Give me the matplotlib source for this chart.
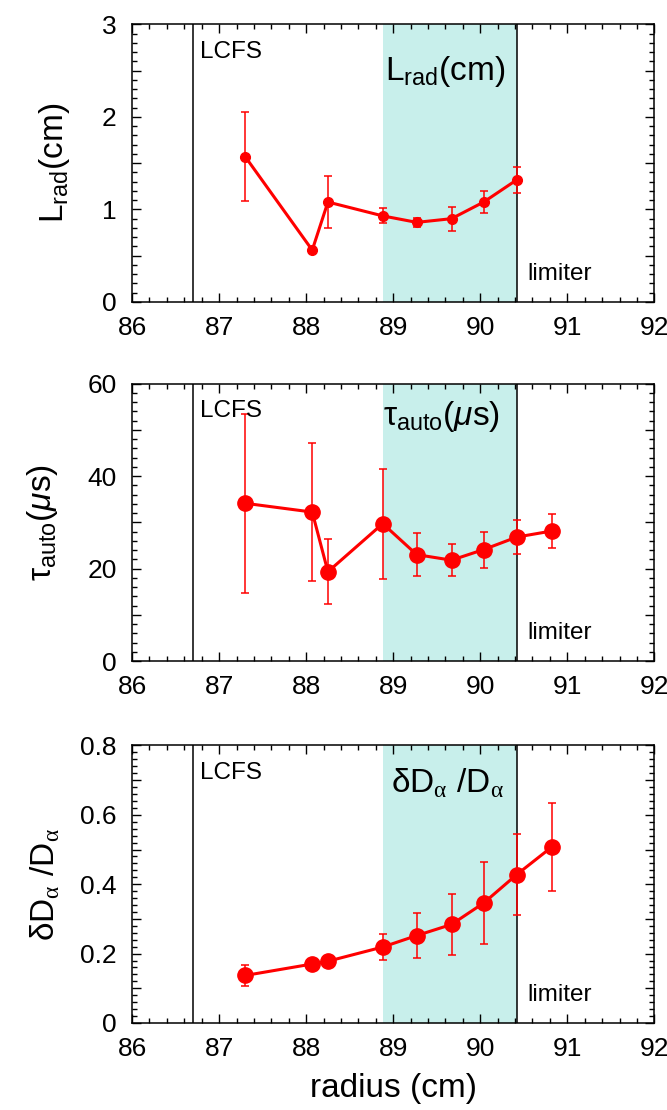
import matplotlib.pyplot as plt
from matplotlib.ticker import MultipleLocator, FuncFormatter

plt.rcParams['font.family'] = ['Liberation Sans', 'DejaVu Sans']
plt.rcParams['mathtext.fontset'] = 'custom'
plt.rcParams['mathtext.rm'] = 'Liberation Sans'
plt.rcParams['mathtext.it'] = 'Liberation Sans:italic'
plt.rcParams['mathtext.bf'] = 'Liberation Sans:bold'
plt.rcParams['mathtext.sf'] = 'Liberation Serif'
plt.rcParams['axes.linewidth'] = 1.1

# radial positions of the probe (cm)
radius = [87.30, 88.07, 88.25, 88.88, 89.27, 89.67, 90.04, 90.42, 90.82]

# radial correlation length (last point has no value)
lrad = [1.57, 0.56, 1.08, 0.93, 0.86, 0.90, 1.08, 1.32]
lrad_err = [0.48, 0.02, 0.28, 0.08, 0.05, 0.13, 0.12, 0.14]

# autocorrelation time (us)
tau = [34.1, 32.2, 19.3, 29.7, 23.0, 21.8, 24.1, 26.8, 28.1]
tau_err = [19.3, 15.0, 7.0, 11.9, 4.7, 3.4, 3.9, 3.7, 3.7]

# relative D-alpha fluctuation level
dda = [0.137, 0.170, 0.178, 0.219, 0.252, 0.284, 0.346, 0.428, 0.507]
dda_err = [0.030, 0.012, 0.010, 0.038, 0.065, 0.088, 0.118, 0.117, 0.127]

lcfs = 86.70
limiter = 90.42
shade_lo = 88.88

lrad_lab = r'L$_{\rm rad}$(cm)'
tau_lab = r'$\mathrm{\tau}_{\rm auto}$($\mu$s)'
dda_lab = r'$\mathrm{\delta}$D$_{\mathsf{\alpha}}$ /D$_{\mathsf{\alpha}}$'

fig = plt.figure(figsize=(6.67, 11.1), dpi=100)

boxes = [0.728, 0.4045, 0.0784]
h = 0.25
panels = [
    dict(y=lrad, e=lrad_err, x=radius[:len(lrad)], ms=7, ymax=3, major=0.5,
         label_step=1, minor=0.1, fmt='%d', lx=-0.115,
         lab=lrad_lab, tx=shade_lo + 0.03, ty=0.80),
    dict(y=tau, e=tau_err, x=radius, ms=11, ymax=60, major=10,
         label_step=20, minor=2, fmt='%d', lx=-0.138,
         lab=tau_lab, tx=shade_lo + 0.0, ty=0.85),
    dict(y=dda, e=dda_err, x=radius, ms=11, ymax=0.8, major=0.1,
         label_step=0.2, minor=0.02, fmt='%.1f', lx=-0.134,
         lab=dda_lab, tx=shade_lo + 0.1, ty=0.83),
]

axes = []
for b, p in zip(boxes, panels):
    ax = fig.add_axes([0.198, b, 0.783, h])
    axes.append(ax)
    ax.axvspan(shade_lo, limiter, color='#c8efeb', lw=0, zorder=0)
    ax.axvline(lcfs, color='black', lw=1.1, zorder=1)
    ax.axvline(limiter, color='black', lw=1.1, zorder=1)
    ax.errorbar(p['x'], p['y'], yerr=p['e'], color='red', lw=2.2,
                marker='o', ms=p['ms'], elinewidth=1.1, capsize=3,
                capthick=1.1, zorder=3)

    ax.set_xlim(86, 92)
    ax.set_ylim(0, p['ymax'])
    ax.xaxis.set_major_locator(MultipleLocator(1))
    ax.xaxis.set_minor_locator(MultipleLocator(0.2))
    ax.yaxis.set_major_locator(MultipleLocator(p['major']))
    ax.yaxis.set_minor_locator(MultipleLocator(p['minor']))

    step = p['label_step']
    fmt = p['fmt']

    def ylab_fmt(v, pos, step=step, fmt=fmt):
        k = round(v / step)
        if abs(v - k * step) < 1e-6:
            return '0' if abs(v) < 1e-9 else fmt % v
        return ''

    ax.yaxis.set_major_formatter(FuncFormatter(ylab_fmt))
    ax.tick_params(which='both', direction='in', top=True, right=True,
                   labelsize=19)
    ax.tick_params(which='major', length=6.5, width=1.0)
    ax.tick_params(which='minor', length=3.6, width=1.0)
    ax.tick_params(axis='x', pad=10)
    ax.tick_params(axis='y', pad=11)

    ax.set_ylabel(p['lab'], fontsize=24)
    ax.yaxis.set_label_coords(p['lx'], 0.5)
    ax.text(86.78, 0.90, 'LCFS', transform=ax.get_xaxis_transform(),
            fontsize=17.5, va='center', ha='left')
    ax.text(90.54, 0.10, 'limiter', transform=ax.get_xaxis_transform(),
            fontsize=17.5, va='center', ha='left')
    ax.text(p['tx'], p['ty'], p['lab'],
            transform=ax.get_xaxis_transform(), fontsize=24,
            va='baseline', ha='left')

axes[-1].set_xlabel('radius (cm)', fontsize=24, labelpad=9)

fig.savefig('out.png', dpi=100)
